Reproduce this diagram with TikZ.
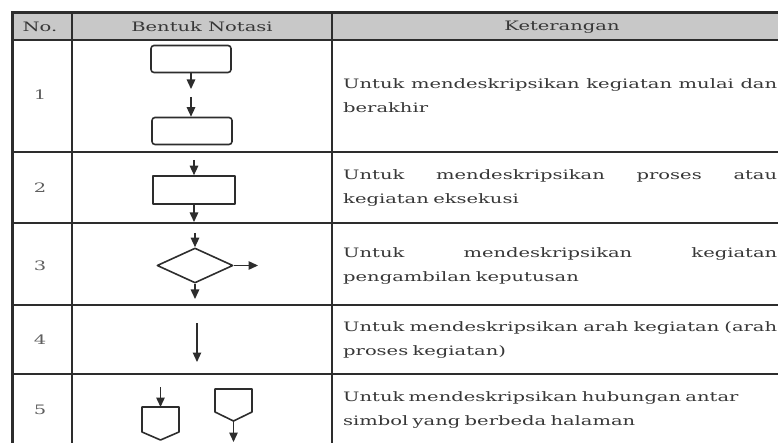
\documentclass[tikz,border=0pt]{standalone}
\usepackage{fontspec}
\setmainfont{DejaVu Serif}[FakeStretch=1.5]
\usepackage{xcolor}
\usetikzlibrary{positioning,shapes.geometric,arrows.meta}
\definecolor{linegray}{RGB}{45,45,45}
\definecolor{headgray}{RGB}{200,200,200}
\definecolor{textgray}{RGB}{55,55,55}
\definecolor{numgray}{RGB}{95,95,95}
\newcommand{\jline}[1]{\hbox to 434pt{\spaceskip=.3em plus 1fil\relax #1}}

\begin{document}
\begin{tikzpicture}[x=1pt, y=-1pt,
    rule/.style={draw=linegray, line width=1.6pt},
    frame/.style={draw=linegray, line width=3pt},
    outline/.style={draw=linegray, line width=1.6pt, line join=round},
    term/.style={rectangle, rounded corners=3pt, outline, minimum width=80pt, minimum height=27pt, inner sep=0pt},
    proc/.style={rectangle, outline, minimum width=82pt, minimum height=28pt, inner sep=0pt},
    decision/.style={diamond, outline, minimum width=76pt, minimum height=35pt, inner sep=0pt},
    arrow/.style={-{Triangle[width=8.5pt,length=9.5pt]}, draw=linegray, line width=1.4pt},
    head/.style={text=textgray, font=\fontsize{13}{16}\selectfont},
    num/.style={text=numgray, font=\fontsize{13}{16}\selectfont},
    desc/.style={anchor=west, text width=434pt, align=left, inner sep=0pt, text=textgray, font=\fontsize{13}{24}\selectfont}]

    \useasboundingbox (0,0) rectangle (778,443);

    % table
    \fill[headgray] (12,13) rectangle (778,40);
    \foreach \y in {40,152,223,305,374}
        \draw[rule] (12,\y) -- (778,\y);
    \draw[rule] (72,13) -- (72,443);
    \draw[rule] (332,13) -- (332,443);
    \draw[frame] (12,443) -- (12,13) -- (778,13);

    \node[head] (hno) at (40,27) {No.};
    \node[head] (hform) at (202,27) {Bentuk Notasi};
    \node[head] (hdesc) at (562,27) {Keterangan};

    % 1
    \node[num] (n1) at (40,95) {1};
    \node[term] (start) at (191,59) {};
    \node[term] (stop) at (192,131) {};
    \coordinate (startout) at (191,89);
    \coordinate (stopin) at (191,97);
    \draw[arrow] (start) -- (startout);
    \draw[arrow] (stopin) -- (stopin |- stop.north);
    \node[desc] (d1) at (343,96) {\jline{Untuk mendeskripsikan kegiatan mulai dan}\\ berakhir};

    % 2
    \node[num] (n2) at (40,188) {2};
    \node[proc] (task) at (194,190) {};
    \coordinate (taskin) at (194,160);
    \coordinate (taskout) at (194,222);
    \draw[arrow] (taskin) -- (task);
    \draw[arrow] (task) -- (taskout);
    \node[desc] (d2) at (343,188.5) {\jline{Untuk mendeskripsikan proses atau}\\ kegiatan eksekusi};

    % 3
    \node[num] (n3) at (40,266) {3};
    \node[decision] (choice) at (195,265.5) {};
    \coordinate (choicein) at (195,233);
    \coordinate (choicedown) at (195,299);
    \coordinate (choiceright) at (258,265.5);
    \draw[arrow] (choicein) -- (choice);
    \draw[arrow] (choice) -- (choicedown);
    \draw[arrow] (choice) -- (choiceright);
    \node[desc] (d3) at (343,266.5) {\jline{Untuk mendeskripsikan kegiatan}\\ pengambilan keputusan};

    % 4
    \node[num] (n4) at (40,340) {4};
    \coordinate (flowtop) at (197,323);
    \coordinate (flowend) at (197,362);
    \draw[arrow, line width=1.1pt] (flowtop) -- (flowend);
    \node[desc] (d4) at (343,340) {\jline{Untuk mendeskripsikan arah kegiatan (arah}\\ proses kegiatan)};

    % 5
    \node[num] (n5) at (40,410) {5};
    \draw[outline] (142,407) -- (179,407) -- (179,432) -- (160.5,440) -- (142,432) -- cycle;
    \draw[outline] (215,389) -- (252,389) -- (252,412) -- (233.5,421) -- (215,412) -- cycle;
    \coordinate (pagein) at (160.5,407);
    \coordinate (pageout) at (233.5,421);
    \coordinate (pageinarr) at (160.5,387);
    \coordinate (pageoutarr) at (233.5,442);
    \draw[arrow] (pageinarr) -- (pagein);
    \draw[arrow] (pageout) -- (pageoutarr);
    \node[desc] (d5) at (343,410) {Untuk mendeskripsikan hubungan antar\\ simbol yang berbeda halaman};
\end{tikzpicture}
\end{document}
